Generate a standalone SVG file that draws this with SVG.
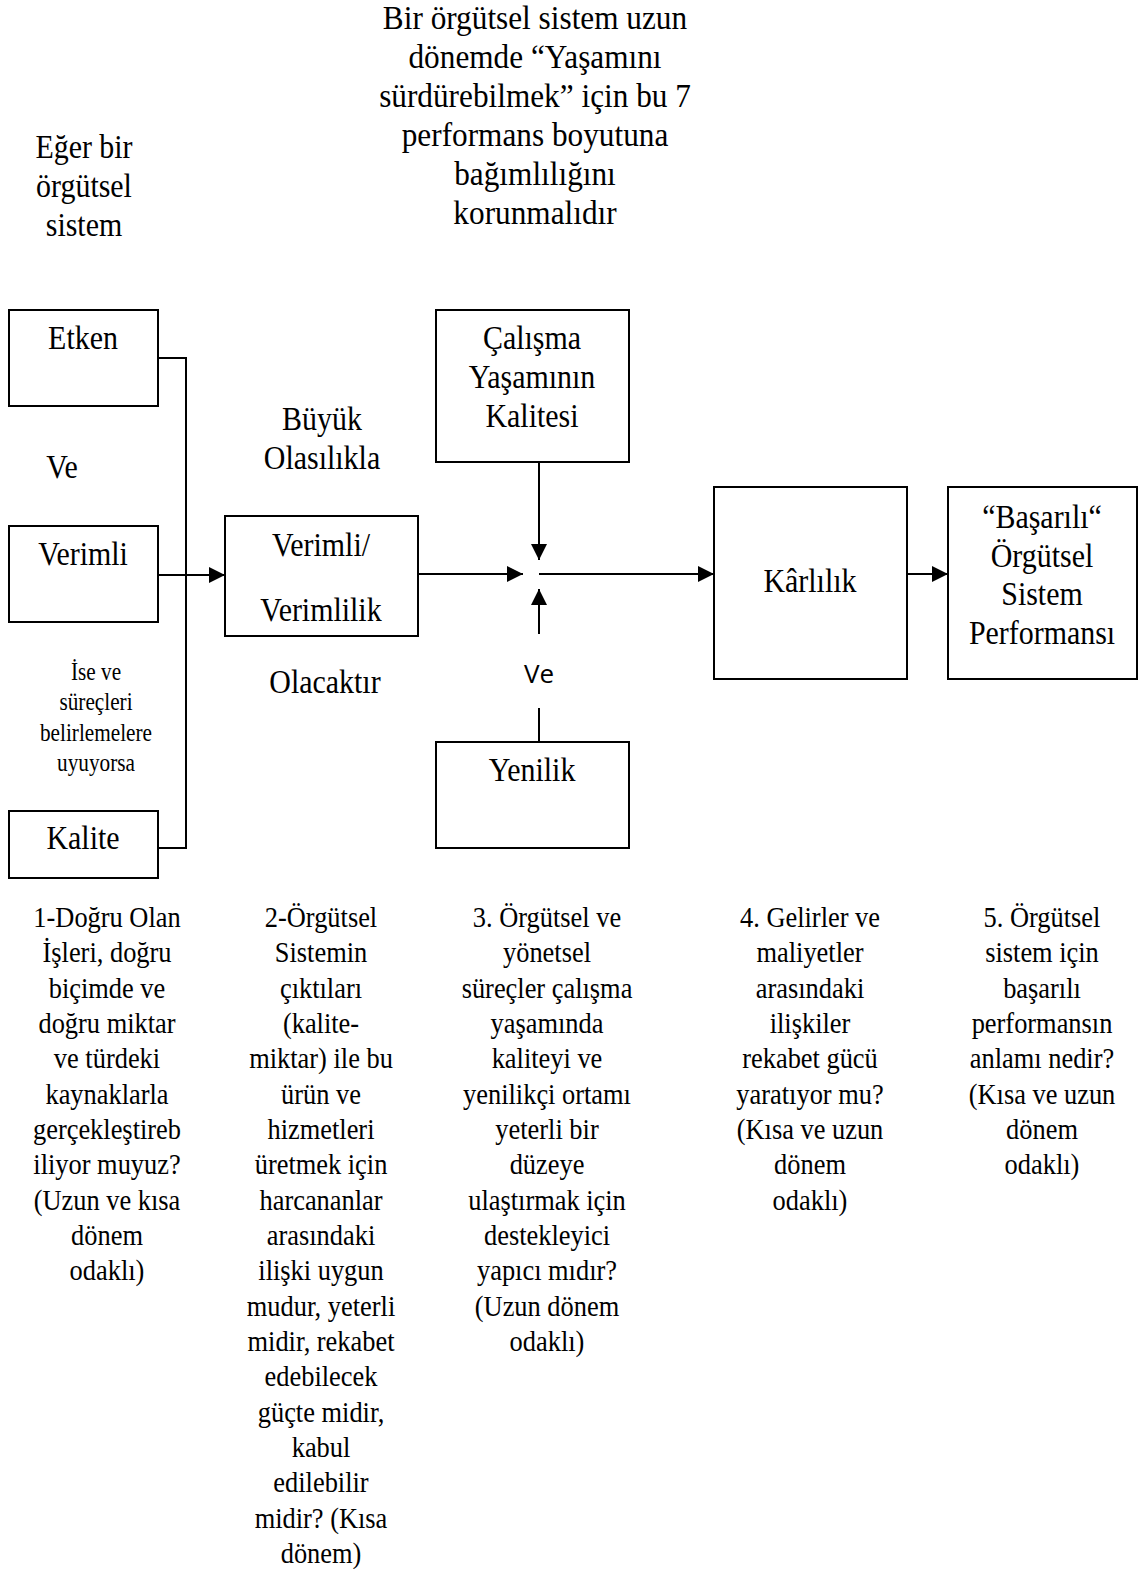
<svg xmlns="http://www.w3.org/2000/svg" width="1139" height="1569" viewBox="0 0 1139 1569">
<defs>
<style>
.box{fill:#fff;stroke:#000;stroke-width:2}
.ln{fill:none;stroke:#000;stroke-width:2}
.t{font-family:"Liberation Serif","Times New Roman",serif;fill:#000;text-anchor:middle}
.big{font-size:34px}
.mid{font-size:30px}
.sm{font-size:25px}
.sans{font-family:"Open Sans","Liberation Sans",sans-serif;font-size:26px;fill:#000;text-anchor:middle}
</style>
<marker id="ah" markerUnits="userSpaceOnUse" markerWidth="16" markerHeight="16" refX="16" refY="8" orient="auto">
<path d="M0,0 L16,8 L0,16 z" fill="#000"/>
</marker>
</defs>
<rect width="1139" height="1569" fill="#fff"/>

<g id="labels">
<text class="t big" transform="translate(535 0) scale(0.92 1)"><tspan x="0" y="29">Bir örgütsel sistem uzun</tspan><tspan x="0" y="68">dönemde “Yaşamını</tspan><tspan x="0" y="107">sürdürebilmek” için bu 7</tspan><tspan x="0" y="146">performans boyutuna</tspan><tspan x="0" y="185">bağımlılığını</tspan><tspan x="0" y="224">korunmalıdır</tspan></text>
<text class="t big" transform="translate(84 0) scale(0.88 1)"><tspan x="0" y="158">Eğer bir</tspan><tspan x="0" y="197">örgütsel</tspan><tspan x="0" y="236">sistem</tspan></text>
<text class="t big" transform="translate(62 0) scale(0.88 1)"><tspan x="0" y="478">Ve</tspan></text>
<text class="t sm" transform="translate(96 0) scale(0.85 1)"><tspan x="0" y="680">İse ve</tspan><tspan x="0" y="710">süreçleri</tspan><tspan x="0" y="741">belirlemelere</tspan><tspan x="0" y="771">uyuyorsa</tspan></text>
<text class="t big" transform="translate(322 0) scale(0.88 1)"><tspan x="0" y="430">Büyük</tspan><tspan x="0" y="469">Olasılıkla</tspan></text>
<text class="t big" transform="translate(325 0) scale(0.88 1)"><tspan x="0" y="693">Olacaktır</tspan></text>
<text class="sans" x="539" y="683">Ve</text>
</g>

<g id="connectors">
<polyline class="ln" points="158,358 186,358 186,848 158,848"/>
<line class="ln" x1="158" y1="575" x2="225" y2="575" marker-end="url(#ah)"/>
<line class="ln" x1="418" y1="574" x2="523" y2="574" marker-end="url(#ah)"/>
<line class="ln" x1="539" y1="462" x2="539" y2="560" marker-end="url(#ah)"/>
<line class="ln" x1="539" y1="634" x2="539" y2="589" marker-end="url(#ah)"/>
<line class="ln" x1="539" y1="708" x2="539" y2="742"/>
<line class="ln" x1="539" y1="574" x2="714" y2="574" marker-end="url(#ah)"/>
<line class="ln" x1="907" y1="574" x2="948" y2="574" marker-end="url(#ah)"/>
</g>

<g id="etken">
<rect class="box" x="9" y="310" width="149" height="96"/>
<text class="t big" transform="translate(83 0) scale(0.88 1)"><tspan x="0" y="349">Etken</tspan></text>
</g>
<g id="verimli">
<rect class="box" x="9" y="526" width="149" height="96"/>
<text class="t big" transform="translate(83 0) scale(0.88 1)"><tspan x="0" y="565">Verimli</tspan></text>
</g>
<g id="kalite">
<rect class="box" x="9" y="811" width="149" height="67"/>
<text class="t big" transform="translate(83 0) scale(0.88 1)"><tspan x="0" y="849">Kalite</tspan></text>
</g>
<g id="verimlilik">
<rect class="box" x="225" y="516" width="193" height="120"/>
<text class="t big" transform="translate(321 0) scale(0.88 1)"><tspan x="0" y="556">Verimli/</tspan><tspan x="0" y="621">Verimlilik</tspan></text>
</g>
<g id="calisma">
<rect class="box" x="436" y="310" width="193" height="152"/>
<text class="t big" transform="translate(532 0) scale(0.88 1)"><tspan x="0" y="349">Çalışma</tspan><tspan x="0" y="388">Yaşamının</tspan><tspan x="0" y="427">Kalitesi</tspan></text>
</g>
<g id="yenilik">
<rect class="box" x="436" y="742" width="193" height="106"/>
<text class="t big" transform="translate(532 0) scale(0.88 1)"><tspan x="0" y="781">Yenilik</tspan></text>
</g>
<g id="karlilik">
<rect class="box" x="714" y="487" width="193" height="192"/>
<text class="t big" transform="translate(810 0) scale(0.88 1)"><tspan x="0" y="592">Kârlılık</tspan></text>
</g>
<g id="basarili">
<rect class="box" x="948" y="487" width="189" height="192"/>
<text class="t big" transform="translate(1042 0) scale(0.88 1)"><tspan x="0" y="528">“Başarılı“</tspan><tspan x="0" y="567">Örgütsel</tspan><tspan x="0" y="605">Sistem</tspan><tspan x="0" y="644">Performansı</tspan></text>
</g>

<g id="questions">
<text class="t mid" transform="translate(107 0) scale(0.88 1)"><tspan x="0" y="927">1-Doğru Olan</tspan><tspan x="0" y="962.3">İşleri, doğru</tspan><tspan x="0" y="997.7">biçimde ve</tspan><tspan x="0" y="1033">doğru miktar</tspan><tspan x="0" y="1068.3">ve türdeki</tspan><tspan x="0" y="1103.7">kaynaklarla</tspan><tspan x="0" y="1139">gerçekleştireb</tspan><tspan x="0" y="1174.3">iliyor muyuz?</tspan><tspan x="0" y="1209.7">(Uzun ve kısa</tspan><tspan x="0" y="1245">dönem</tspan><tspan x="0" y="1280.3">odaklı)</tspan></text>
<text class="t mid" transform="translate(321 0) scale(0.88 1)"><tspan x="0" y="927">2-Örgütsel</tspan><tspan x="0" y="962.3">Sistemin</tspan><tspan x="0" y="997.7">çıktıları</tspan><tspan x="0" y="1033">(kalite-</tspan><tspan x="0" y="1068.3">miktar) ile bu</tspan><tspan x="0" y="1103.7">ürün ve</tspan><tspan x="0" y="1139">hizmetleri</tspan><tspan x="0" y="1174.3">üretmek için</tspan><tspan x="0" y="1209.7">harcananlar</tspan><tspan x="0" y="1245">arasındaki</tspan><tspan x="0" y="1280.3">ilişki uygun</tspan><tspan x="0" y="1315.7">mudur, yeterli</tspan><tspan x="0" y="1351">midir, rekabet</tspan><tspan x="0" y="1386.3">edebilecek</tspan><tspan x="0" y="1421.7">güçte midir,</tspan><tspan x="0" y="1457">kabul</tspan><tspan x="0" y="1492.3">edilebilir</tspan><tspan x="0" y="1527.7">midir? (Kısa</tspan><tspan x="0" y="1563">dönem)</tspan></text>
<text class="t mid" transform="translate(547 0) scale(0.88 1)"><tspan x="0" y="927">3. Örgütsel ve</tspan><tspan x="0" y="962.3">yönetsel</tspan><tspan x="0" y="997.7">süreçler çalışma</tspan><tspan x="0" y="1033">yaşamında</tspan><tspan x="0" y="1068.3">kaliteyi ve</tspan><tspan x="0" y="1103.7">yenilikçi ortamı</tspan><tspan x="0" y="1139">yeterli bir</tspan><tspan x="0" y="1174.3">düzeye</tspan><tspan x="0" y="1209.7">ulaştırmak için</tspan><tspan x="0" y="1245">destekleyici</tspan><tspan x="0" y="1280.3">yapıcı mıdır?</tspan><tspan x="0" y="1315.7">(Uzun dönem</tspan><tspan x="0" y="1351">odaklı)</tspan></text>
<text class="t mid" transform="translate(810 0) scale(0.88 1)"><tspan x="0" y="927">4. Gelirler ve</tspan><tspan x="0" y="962.3">maliyetler</tspan><tspan x="0" y="997.7">arasındaki</tspan><tspan x="0" y="1033">ilişkiler</tspan><tspan x="0" y="1068.3">rekabet gücü</tspan><tspan x="0" y="1103.7">yaratıyor mu?</tspan><tspan x="0" y="1139">(Kısa ve uzun</tspan><tspan x="0" y="1174.3">dönem</tspan><tspan x="0" y="1209.7">odaklı)</tspan></text>
<text class="t mid" transform="translate(1042 0) scale(0.88 1)"><tspan x="0" y="927">5. Örgütsel</tspan><tspan x="0" y="962.3">sistem için</tspan><tspan x="0" y="997.7">başarılı</tspan><tspan x="0" y="1033">performansın</tspan><tspan x="0" y="1068.3">anlamı nedir?</tspan><tspan x="0" y="1103.7">(Kısa ve uzun</tspan><tspan x="0" y="1139">dönem</tspan><tspan x="0" y="1174.3">odaklı)</tspan></text>
</g>
</svg>
